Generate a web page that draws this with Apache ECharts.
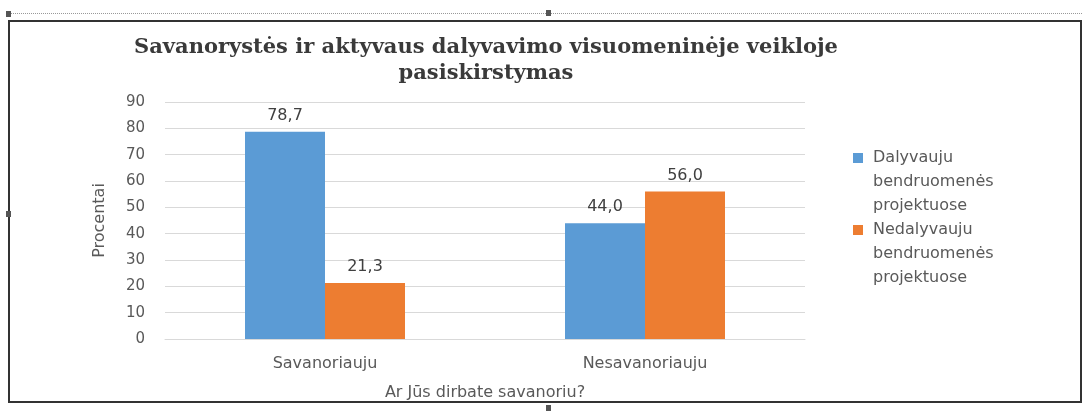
<!DOCTYPE html>
<html>
<head>
<meta charset="utf-8">
<script src="https://cdn.jsdelivr.net/npm/echarts@6/dist/echarts.min.js"></script>
<style>
  html, body { margin: 0; padding: 0; background: #fff; }
  #wrap { position: relative; width: 1088px; height: 411px; overflow: hidden; }
  .dots { position: absolute; left: 8px; top: 13px; width: 1074px; border-top: 1px dotted #999; }
  .frame { position: absolute; left: 8px; top: 20px; width: 1070px; height: 379px; border: 2px solid #333; }
  .h { position: absolute; width: 5px; height: 6px; background: #555; }
  #main { position: absolute; left: 0; top: 0; width: 1088px; height: 411px; }
</style>
</head>
<body>
<div id="wrap">
  <div class="dots"></div>
  <div class="frame"></div>
  <div class="h" style="left:6px;top:11px"></div>
  <div class="h" style="left:546px;top:10px"></div>
  <div class="h" style="left:6px;top:211px"></div>
  <div class="h" style="left:546px;top:405px"></div>
  <div id="main"></div>
</div>
<script>
// duomenys
const categories = ["Savanoriauju", "Nesavanoriauju"];
const seriesNames = [
  "Dalyvauju\nbendruomenės\nprojektuose",
  "Nedalyvauju\nbendruomenės\nprojektuose"
];
const dalyvauju = [78.7, 44.0];
const nedalyvauju = [21.3, 56.0];
const colors = ["#5b9bd5", "#ed7d31"];

const txt = "#595959";
const font = "DejaVu Sans";

const chart = echarts.init(document.getElementById("main"));

// legend icon: kvadratas prie pirmos eilutes
const icon = "path://M0,7h10v10h-10z M15,0 M15,72";

const label = {
  show: true,
  position: "top",
  distance: 8,
  color: "#404040",
  fontFamily: font,
  fontSize: 16,
  formatter: (p) => p.value.toFixed(1).replace(".", ",")
};

chart.setOption({
  animation: false,
  color: colors,
  title: {
    text: "Savanorystės ir aktyvaus dalyvavimo visuomeninėje veikloje\npasiskirstymas",
    left: 481,
    top: 30,
    textAlign: "center",
    textStyle: {
      fontFamily: "DejaVu Serif",
      fontWeight: "bold",
      fontSize: 21,
      lineHeight: 26,
      color: "#3a3a3a"
    }
  },
  legend: {
    orient: "vertical",
    left: 848,
    top: 141,
    itemWidth: 15,
    itemHeight: 72,
    itemGap: 0,
    icon: icon,
    textStyle: { color: txt, fontFamily: font, fontSize: 16, lineHeight: 24 },
    data: seriesNames
  },
  grid: { left: 165, right: 283, top: 102, bottom: 72 },
  xAxis: {
    type: "category",
    data: categories,
    name: "Ar Jūs dirbate savanoriu?",
    nameLocation: "middle",
    nameGap: 46,
    nameTextStyle: { color: txt, fontFamily: font, fontSize: 16 },
    axisLine: { lineStyle: { color: "#d9d9d9" } },
    axisTick: { show: false },
    axisLabel: { color: txt, fontFamily: font, fontSize: 16, margin: 17 }
  },
  yAxis: {
    type: "value",
    min: 0,
    max: 90,
    interval: 10,
    name: "Procentai",
    nameLocation: "middle",
    nameGap: 57,
    nameTextStyle: { color: txt, fontFamily: font, fontSize: 16 },
    axisLine: { show: false },
    axisTick: { show: false },
    axisLabel: { color: txt, fontFamily: font, fontSize: 15, margin: 20 },
    splitLine: { lineStyle: { color: "#d9d9d9" } }
  },
  series: [
    {
      name: seriesNames[0],
      type: "bar",
      data: dalyvauju,
      barGap: "0%",
      barCategoryGap: "50%",
      label: label
    },
    {
      name: seriesNames[1],
      type: "bar",
      data: nedalyvauju,
      label: label
    }
  ]
});
</script>
</body>
</html>
